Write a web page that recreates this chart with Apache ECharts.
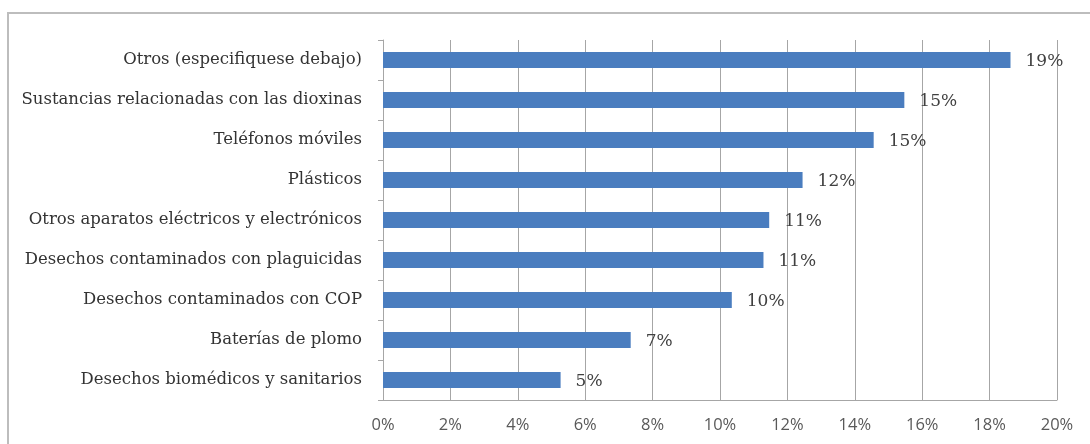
<!DOCTYPE html>
<html>
<head>
<meta charset="utf-8">
<script src="https://cdn.jsdelivr.net/npm/echarts@6/dist/echarts.min.js"></script>
<style>
html,body{margin:0;padding:0;background:#fff;}
#c{width:1090px;height:444px;}
</style>
</head>
<body>
<div id="c"></div>
<script>
// Categories listed bottom to top
const categories = [
  "Desechos biomédicos y sanitarios",
  "Baterías de plomo",
  "Desechos contaminados con COP",
  "Desechos contaminados con plaguicidas",
  "Otros aparatos eléctricos y electrónicos",
  "Plásticos",
  "Teléfonos móviles",
  "Sustancias relacionadas con las dioxinas",
  "Otros (especifiquese debajo)"
];
const values = [5.27, 7.35, 10.35, 11.29, 11.46, 12.45, 14.56, 15.47, 18.62];
const xTicks = [0, 2, 4, 6, 8, 10, 12, 14, 16, 18, 20];

const chart = echarts.init(document.getElementById('c'));
chart.setOption({
  animation: false,
  backgroundColor: '#ffffff',
  graphic: [{
    type: 'rect',
    shape: {x: 8, y: 13, width: 1090, height: 440},
    style: {fill: 'none', stroke: '#bdbdbd', lineWidth: 2},
    silent: true
  }],
  grid: {left: 383, right: 33, top: 40, bottom: 44, containLabel: false},
  xAxis: {
    type: 'value',
    min: xTicks[0],
    max: xTicks[xTicks.length - 1],
    interval: 2,
    axisLine: {show: true, lineStyle: {color: '#a6a6a6'}},
    axisTick: {show: false},
    splitLine: {show: true, lineStyle: {color: '#a6a6a6', width: 1}},
    axisLabel: {
      formatter: v => v + '%',
      fontFamily: 'Open Sans',
      fontSize: 16.5,
      color: '#595959',
      margin: 17
    }
  },
  yAxis: {
    type: 'category',
    data: categories,
    axisLine: {show: true, lineStyle: {color: '#a6a6a6'}},
    axisTick: {show: true, length: 5, lineStyle: {color: '#a6a6a6'}},
    axisLabel: {
      fontFamily: 'DejaVu Serif',
      fontSize: 16.5,
      color: '#333333',
      margin: 21
    }
  },
  series: [{
    type: 'bar',
    data: values,
    barWidth: 16,
    itemStyle: {color: '#4a7dbf'},
    label: {
      show: true,
      position: 'right',
      distance: 15,
      offset: [0, 2],
      formatter: p => Math.round(p.value) + '%',
      fontFamily: 'DejaVu Serif',
      fontSize: 17,
      color: '#404040'
    }
  }]
});
</script>
</body>
</html>
